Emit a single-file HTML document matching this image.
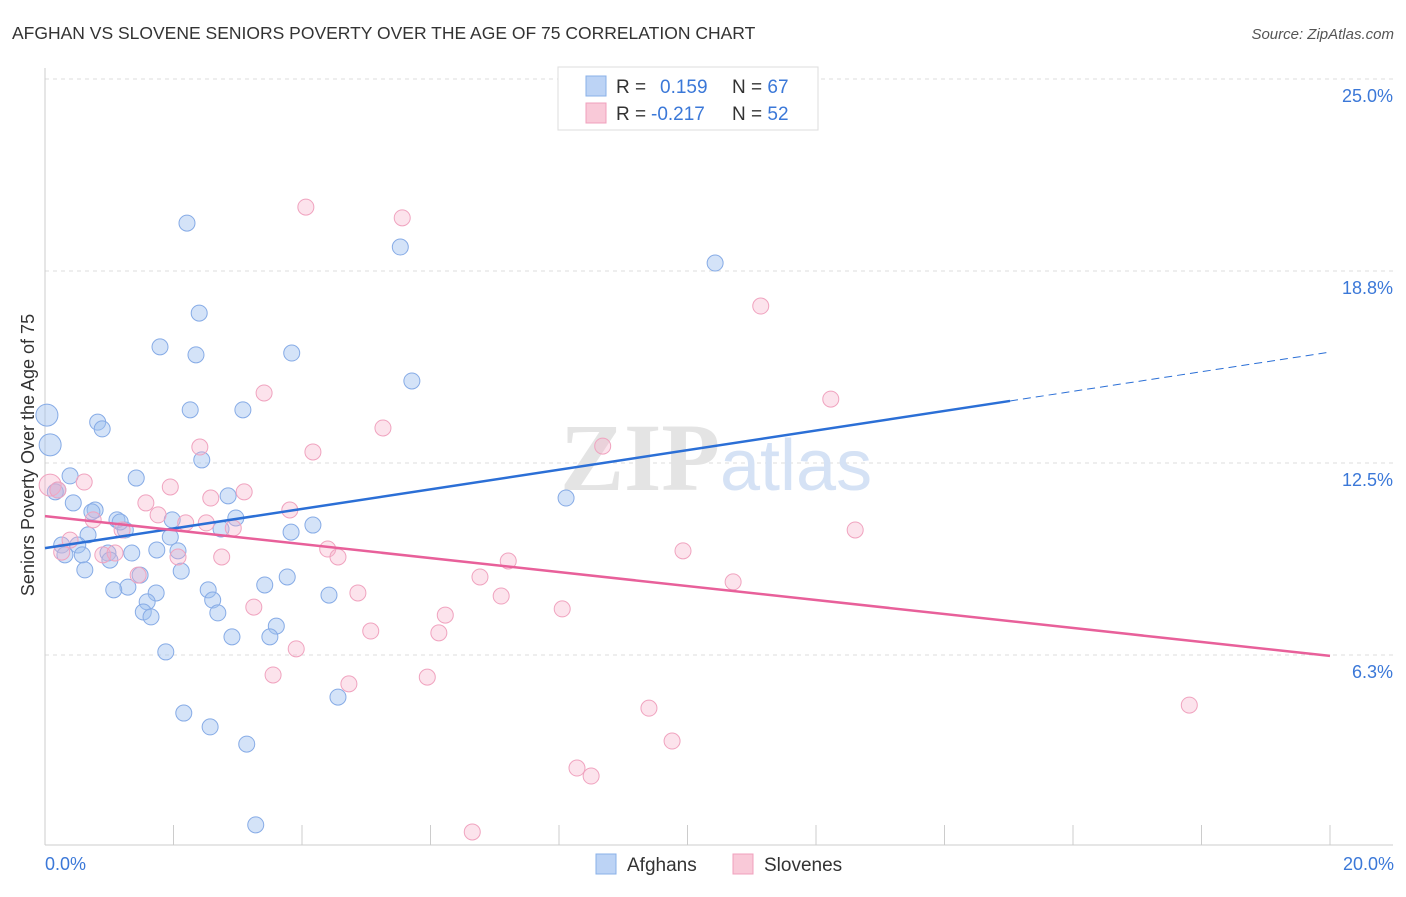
<!DOCTYPE html>
<html><head><meta charset="utf-8"><style>
body{margin:0;background:#fff;font-family:"Liberation Sans",sans-serif}
</style></head><body>
<svg id="c" width="1406" height="892" xmlns="http://www.w3.org/2000/svg" style="font-family:'Liberation Sans',sans-serif">
<text x="12" y="39" font-size="17.5" fill="#333">AFGHAN VS SLOVENE SENIORS POVERTY OVER THE AGE OF 75 CORRELATION CHART</text>
<text x="1394" y="39" font-size="15" fill="#555" text-anchor="end" font-style="italic">Source: ZipAtlas.com</text>
<g id="grid"></g>
<text x="720" y="490" font-size="96" font-weight="bold" fill="#e4e4e4" text-anchor="end" font-family="Liberation Serif,serif">ZIP</text>
<text x="720" y="490" font-size="72" fill="#d5e2f5">atlas</text>
<g id="pts"></g>
<g id="lines"></g>
<text x="34" y="455" font-size="18" fill="#333" text-anchor="middle" transform="rotate(-90 34 455)">Seniors Poverty Over the Age of 75</text>
<text x="45" y="870" font-size="18" fill="#3b78d8">0.0%</text>
<text x="1394" y="870" font-size="18" fill="#3b78d8" text-anchor="end">20.0%</text>
<g>
<rect x="558" y="67" width="260" height="63" fill="#fff" stroke="#ddd"/>
<rect x="586" y="76" width="20" height="20" fill="#bcd3f5" stroke="#8ab0e8"/>
<rect x="586" y="103" width="20" height="20" fill="#f9c9d8" stroke="#f0a0bd"/>
<text x="616" y="93" font-size="19" fill="#333">R = <tspan fill="#3b78d8" x="660">0.159</tspan><tspan x="732" fill="#333">N = </tspan><tspan fill="#3b78d8">67</tspan></text>
<text x="616" y="120" font-size="19" fill="#333">R = <tspan fill="#3b78d8" x="651">-0.217</tspan><tspan x="732" fill="#333">N = </tspan><tspan fill="#3b78d8">52</tspan></text>
</g>
<g><rect x="596" y="854" width="20" height="20" fill="#bcd3f5" stroke="#8ab0e8"/><text x="627" y="871" font-size="19" fill="#333">Afghans</text></g>
<g><rect x="733" y="854" width="20" height="20" fill="#f9c9d8" stroke="#f0a0bd"/><text x="764" y="871" font-size="19" fill="#333">Slovenes</text></g>
</svg>
<script>
const yTicks=[6.25,12.5,18.75,25];
const yTickLabels=["6.3%","12.5%","18.8%","25.0%"];
const xTicks=[0,2,4,6,8,10,12,14,16,18,20];
const afghanX=[0.03,0.08,0.39,0.20,0.16,0.44,0.78,0.73,1.12,1.25,0.67,0.26,0.31,0.51,0.58,0.62,0.98,1.01,1.35,1.42,0.82,0.89,1.79,2.21,2.40,2.35,2.26,2.44,2.85,2.97,2.74,1.98,1.95,1.74,2.07,2.12,1.48,1.29,1.07,1.73,1.59,1.53,1.65,2.54,2.61,2.69,2.91,1.88,2.16,2.57,3.14,3.28,3.42,3.77,3.60,3.50,3.84,3.08,3.83,4.17,4.42,4.56,5.53,5.71,8.11,10.43,1.17];
const afghanY=[14.06,13.09,12.08,11.62,11.56,11.20,10.97,10.91,10.65,10.32,10.16,9.83,9.51,9.83,9.51,9.02,9.57,9.34,9.57,12.01,13.83,13.61,16.28,20.31,17.38,16.02,14.23,12.60,11.43,10.71,10.35,10.65,10.09,9.67,9.64,8.98,8.85,8.46,8.37,8.27,7.98,7.65,7.49,8.37,8.04,7.62,6.84,6.35,4.36,3.91,3.35,0.72,8.53,8.79,7.19,6.84,16.08,14.23,10.25,10.48,8.20,4.88,19.53,15.17,11.36,19.01,10.58];
const sloveneX=[0.08,0.20,0.39,0.26,0.61,0.75,0.90,1.09,1.20,1.45,1.57,1.76,1.95,2.07,2.19,2.41,2.51,2.58,2.75,2.93,3.10,3.25,3.41,3.55,3.81,3.91,4.06,4.17,4.40,4.56,4.73,4.87,5.07,5.26,5.56,5.95,6.13,6.23,6.65,6.77,7.10,7.21,8.05,8.28,8.50,8.68,9.40,9.76,9.93,10.71,11.14,12.23,12.61,17.81];
const sloveneY=[11.78,11.62,9.99,9.60,11.88,10.65,9.51,9.57,10.32,8.85,11.20,10.81,11.72,9.44,10.55,13.02,10.55,11.36,9.44,10.38,11.56,7.81,14.78,5.60,10.97,6.45,20.83,12.86,9.70,9.44,5.31,8.27,7.03,13.64,20.48,5.53,6.97,7.55,0.49,8.79,8.17,9.31,7.75,2.57,2.31,13.05,4.52,3.45,9.64,8.63,17.61,14.58,10.32,4.62];
const afghanTrend=[[0,9.73],[15.02,14.52],[20,16.11]];
const sloveneTrend=[[0,10.77],[20,6.22]];
const X=v=>45+v*64.25, Y=v=>847-v*30.72;
const NS="http://www.w3.org/2000/svg";
function mk(t,a,p){const e=document.createElementNS(NS,t);for(const k in a)e.setAttribute(k,a[k]);p.appendChild(e);return e;}
const g=document.getElementById('grid');
yTicks.forEach((t,i)=>{
 const l=mk('line',{x1:45,x2:1393,y1:Y(t),y2:Y(t),stroke:'#ddd','stroke-dasharray':'4 4'},g);
 
 
 const tx=mk('text',{x:1393,y:Y(t)+23,'font-size':18,fill:'#3b78d8','text-anchor':'end'},g);
 tx.textContent=yTickLabels[i];
 
 
});
mk('line',{x1:45,x2:1393,y1:845,y2:845,stroke:'#ccc'},g);
mk('line',{x1:45,x2:45,y1:68,y2:845,stroke:'#ccc'},g);
xTicks.forEach(t=>{
 const l=mk('line',{x1:X(t),x2:X(t),y1:825,y2:845,stroke:'#ccc'},g);
 
 
});
const P=document.getElementById('pts');
afghanX.forEach((x,i)=>{
 const c=mk('circle',{cx:X(x),cy:Y(afghanY[i]),r:x<0.1?11:8,fill:'rgba(160,192,240,0.45)',stroke:'#86abe6','stroke-width':1},P);
 
 
});
sloveneX.forEach((x,i)=>{
 const c=mk('circle',{cx:X(x),cy:Y(sloveneY[i]),r:x<0.1?11:8,fill:'rgba(246,176,200,0.35)',stroke:'#f0a3bf','stroke-width':1},P);
 
 
});
const L=document.getElementById('lines');
const b1=mk('line',{x1:X(afghanTrend[0][0]),y1:Y(afghanTrend[0][1]),x2:X(afghanTrend[1][0]),y2:Y(afghanTrend[1][1]),stroke:'#2b6fd6','stroke-width':2.5},L);


const b2=mk('line',{x1:X(afghanTrend[1][0]),y1:Y(afghanTrend[1][1]),x2:X(afghanTrend[2][0]),y2:Y(afghanTrend[2][1]),stroke:'#2b6fd6','stroke-width':1,'stroke-dasharray':'8 5'},L);


const p1=mk('line',{x1:X(sloveneTrend[0][0]),y1:Y(sloveneTrend[0][1]),x2:X(sloveneTrend[1][0]),y2:Y(sloveneTrend[1][1]),stroke:'#e8609a','stroke-width':2.5},L);


</script>
</body></html>
